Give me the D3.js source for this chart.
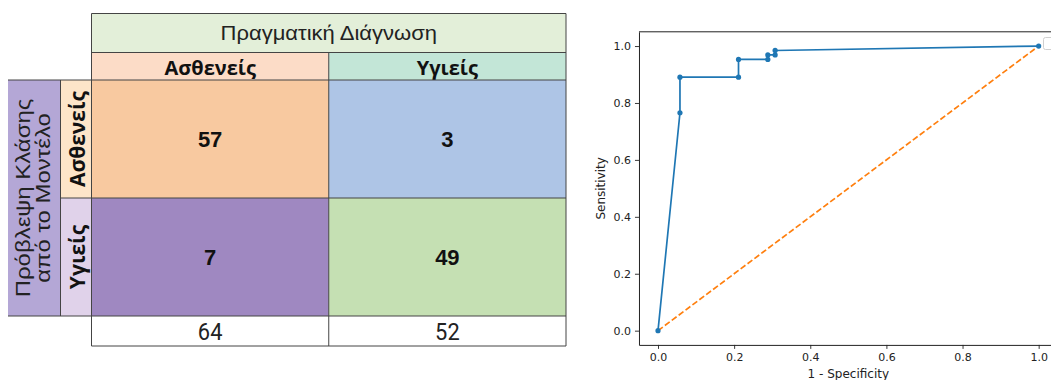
<!DOCTYPE html>
<html>
<head>
<meta charset="utf-8">
<script src="https://cdn.jsdelivr.net/npm/d3@7"></script>
<style>
  html, body { margin: 0; padding: 0; background: #fff; }
  svg { display: block; }
</style>
</head>
<body>
<svg id="chart" width="1051" height="380"></svg>
<script>
// ---------- Data: confusion matrix ----------
const topTitle = "Πραγματική Διάγνωση";
const leftTitle = ["Πρόβλεψη Κλάσης", "από το Μοντέλο"];
const actualClasses = ["Ασθενείς", "Υγιείς"];
const predictedClasses = ["Ασθενείς", "Υγιείς"];
const countsPredSick = [57, 3];
const countsPredHealthy = [7, 49];
const columnTotals = [64, 52];

// ---------- Data: ROC curve ----------
const fpr = [0, 0.0577, 0.0577, 0.2115, 0.2115, 0.2885, 0.2885, 0.3077, 0.3077, 1];
const tpr = [0, 0.7656, 0.8906, 0.8906, 0.9531, 0.9531, 0.9688, 0.9688, 0.9844, 1];
const chanceX = [0, 1];
const chanceY = [0, 1];
const rocTicks = [0, 0.2, 0.4, 0.6, 0.8, 1.0];
const xLabel = "1 - Specificity";
const yLabel = "Sensitivity";

const svg = d3.select("#chart");

// ================= Confusion matrix =================
const T = { left: 8, lab2: 60.5, body: 91.5, right: 566, top: 13.5, hdr2: 52.5, rows: 80, rowsEnd: 316, bottom: 346 };
const colX = d3.scaleBand().domain(actualClasses).range([T.body, T.right]);
const rowY = d3.scaleBand().domain(predictedClasses).range([T.rows, T.rowsEnd]);
const matrix = [countsPredSick, countsPredHealthy];
const cellColors = [["#f8c9a0", "#aec5e6"], ["#9f88c1", "#c5e0b3"]];
const colHeadColors = ["#fcdcc7", "#c3e6d7"];
const rowHeadColors = ["#fde5c9", "#e0d2ea"];
const lineCol = "#444";
const tbl = svg.append("g");
const regFont = "'Liberation Sans', Arial, sans-serif";
const boldFont = "'Open Sans', 'Liberation Sans', sans-serif";

// top title cell
tbl.append("rect").attr("x", T.body).attr("y", T.top).attr("width", T.right - T.body).attr("height", T.hdr2 - T.top)
  .attr("fill", "#e3efd9");
tbl.append("text").attr("transform", `translate(${(T.body + T.right) / 2},${(T.top + T.hdr2) / 2}) scale(1.1,1)`)
  .attr("text-anchor", "middle").attr("dominant-baseline", "central")
  .style("font-family", regFont).style("font-size", "20px").attr("fill", "#222")
  .text(topTitle);

// column headers
actualClasses.forEach((c, i) => {
  tbl.append("rect").attr("x", colX(c)).attr("y", T.hdr2).attr("width", colX.bandwidth()).attr("height", T.rows - T.hdr2)
    .attr("fill", colHeadColors[i]);
  tbl.append("text").attr("x", colX(c) + colX.bandwidth() / 2).attr("y", (T.hdr2 + T.rows) / 2 + 1)
    .attr("text-anchor", "middle").attr("dominant-baseline", "central")
    .style("font-family", boldFont).style("font-weight", "bold").style("font-size", "20px")
    .attr("fill", "#111").text(c);
});

// left outer title
tbl.append("rect").attr("x", T.left).attr("y", T.rows).attr("width", T.lab2 - T.left).attr("height", T.rowsEnd - T.rows)
  .attr("fill", "#b4a7d6");
const ltx = (T.left + T.lab2) / 2, lty = (T.rows + T.rowsEnd) / 2;
const lt = tbl.append("text").attr("transform", `translate(${ltx},${lty}) rotate(-90) scale(1.14,1)`)
  .attr("text-anchor", "middle")
  .style("font-family", regFont).style("font-size", "21px").attr("fill", "#222");
leftTitle.forEach((s, i) => {
  lt.append("tspan").attr("x", 0).attr("y", i === 0 ? -4 : 16).text(s);
});

// row headers
predictedClasses.forEach((r, i) => {
  tbl.append("rect").attr("x", T.lab2).attr("y", rowY(r)).attr("width", T.body - T.lab2).attr("height", rowY.bandwidth())
    .attr("fill", rowHeadColors[i]);
  const cx = (T.lab2 + T.body) / 2, cy = rowY(r) + rowY.bandwidth() / 2;
  tbl.append("text").attr("transform", `translate(${cx + 1},${cy}) rotate(-90)`)
    .attr("text-anchor", "middle").attr("dominant-baseline", "central")
    .style("font-family", boldFont).style("font-weight", "bold").style("font-size", "21px")
    .attr("fill", "#111").text(r);
});

// body cells
predictedClasses.forEach((r, i) => {
  actualClasses.forEach((c, j) => {
    tbl.append("rect").attr("x", colX(c)).attr("y", rowY(r)).attr("width", colX.bandwidth()).attr("height", rowY.bandwidth())
      .attr("fill", cellColors[i][j]);
    tbl.append("text").attr("x", colX(c) + colX.bandwidth() / 2).attr("y", rowY(r) + rowY.bandwidth() / 2)
      .attr("text-anchor", "middle").attr("dominant-baseline", "central")
      .style("font-family", regFont).style("font-weight", "bold").style("font-size", "22px")
      .attr("fill", "#111").text(matrix[i][j]);
  });
});

// totals row
actualClasses.forEach((c, j) => {
  tbl.append("text").attr("transform", `translate(${colX(c) + colX.bandwidth() / 2},${(T.rowsEnd + T.bottom) / 2 + 1}) scale(0.95,1)`)
    .attr("text-anchor", "middle").attr("dominant-baseline", "central")
    .style("font-family", "Roboto, 'Liberation Sans', sans-serif").style("font-size", "23px")
    .attr("fill", "#222").text(columnTotals[j]);
});

// grid lines
const L = (x1, y1, x2, y2) => tbl.append("line").attr("x1", x1).attr("y1", y1).attr("x2", x2).attr("y2", y2)
  .attr("stroke", lineCol).attr("stroke-width", 1);
L(T.body, T.top, T.right, T.top);
L(T.body, T.hdr2, T.right, T.hdr2);
L(T.left, T.rows, T.right, T.rows);
L(T.lab2, T.rows + rowY.bandwidth(), T.right, T.rows + rowY.bandwidth());
L(T.left, T.rowsEnd, T.right, T.rowsEnd);
L(T.body, T.bottom, T.right, T.bottom);
L(T.body, T.top, T.body, T.bottom);
L(T.right, T.top, T.right, T.bottom);
L(colX(actualClasses[1]), T.hdr2, colX(actualClasses[1]), T.bottom);
L(T.lab2, T.rows, T.lab2, T.rowsEnd);

// ================= ROC curve =================
const x = d3.scaleLinear().domain([-0.05, 1.05]).range([638.97, 1057.7]);
const y = d3.scaleLinear().domain([-0.05, 1.05]).range([344.9, 31.8]);
const roc = svg.append("g");
const font = "'DejaVu Sans', sans-serif";

const xAxis = roc.append("g").attr("transform", `translate(0,${y.range()[0]})`)
  .call(d3.axisBottom(x).tickValues(rocTicks).tickFormat(d3.format(".1f")).tickSize(4).tickPadding(4).tickSizeOuter(0));
const yAxis = roc.append("g").attr("transform", `translate(${x.range()[0]},0)`)
  .call(d3.axisLeft(y).tickValues(rocTicks).tickFormat(d3.format(".1f")).tickSize(4).tickPadding(4).tickSizeOuter(0));
[xAxis, yAxis].forEach(a => {
  a.selectAll("text").style("font-family", font).style("font-size", "11px").attr("fill", "#222");
  a.selectAll("line").attr("stroke", "#222").attr("stroke-width", 0.9);
  a.select(".domain").attr("stroke", "#222").attr("stroke-width", 1);
});
// top spine
roc.append("line").attr("x1", x.range()[0]).attr("x2", x.range()[1]).attr("y1", y.range()[1]).attr("y2", y.range()[1])
  .attr("stroke", "#222").attr("stroke-width", 1);

// chance line
roc.append("path")
  .datum(chanceX.map((v, i) => [v, chanceY[i]]))
  .attr("d", d3.line().x(d => x(d[0])).y(d => y(d[1])))
  .attr("fill", "none").attr("stroke", "#ff7f0e").attr("stroke-width", 1.7).attr("stroke-dasharray", "6,2.6");

// ROC line
const pts = fpr.map((v, i) => [v, tpr[i]]);
roc.append("path").datum(pts)
  .attr("d", d3.line().x(d => x(d[0])).y(d => y(d[1])))
  .attr("fill", "none").attr("stroke", "#1f77b4").attr("stroke-width", 1.7);
roc.selectAll("circle.pt").data(pts).join("circle").attr("class", "pt")
  .attr("cx", d => x(d[0])).attr("cy", d => y(d[1])).attr("r", 2.6).attr("fill", "#1f77b4");

// labels
roc.append("text").attr("x", (x.range()[0] + x.range()[1]) / 2).attr("y", 378)
  .attr("text-anchor", "middle").style("font-family", font).style("font-size", "12px").attr("fill", "#222").text(xLabel);
roc.append("text").attr("transform", `translate(605,${(y.range()[0] + y.range()[1]) / 2}) rotate(-90)`)
  .attr("text-anchor", "middle").style("font-family", font).style("font-size", "12px").attr("fill", "#222").text(yLabel);

// empty legend box
roc.append("rect").attr("x", 1043.5).attr("y", 37.5).attr("width", 10).attr("height", 12).attr("rx", 2)
  .attr("fill", "#fff").attr("fill-opacity", 0.8).attr("stroke", "#d0d0d0").attr("stroke-width", 1);
</script>
</body>
</html>
